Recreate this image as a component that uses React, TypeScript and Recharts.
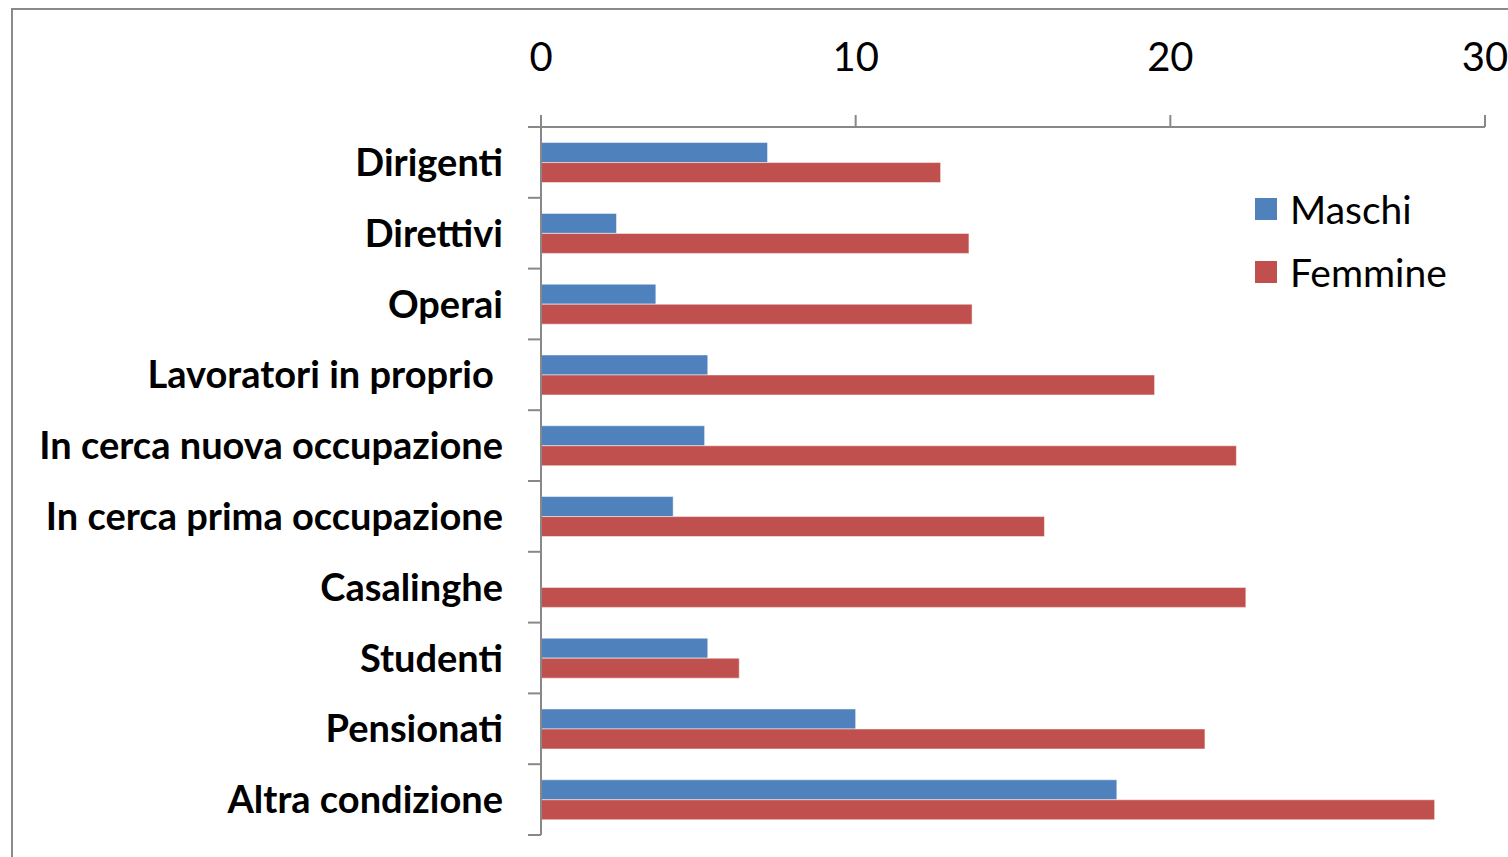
import { Bar, BarChart, Legend, XAxis, YAxis } from "recharts";

const categories = [
  "Dirigenti",
  "Direttivi",
  "Operai",
  "Lavoratori in proprio ",
  "In cerca nuova occupazione",
  "In cerca prima occupazione",
  "Casalinghe",
  "Studenti",
  "Pensionati",
  "Altra condizione"
];
const maschi = [7.2, 2.4, 3.65, 5.3, 5.2, 4.2, 0, 5.3, 10.0, 18.3];
const femmine = [12.7, 13.6, 13.7, 19.5, 22.1, 16.0, 22.4, 6.3, 21.1, 28.4];
const xTicks = [0, 10, 20, 30];
const seriesOrder = ["Maschi", "Femmine"];

const data = categories.map((name, i) => ({ name, Maschi: maschi[i], Femmine: femmine[i] }));

const FONT = "Lato, 'Open Sans', sans-serif";
const AXIS = "#888888";

function CategoryTick(props: any) {
  const { x, y, payload, index } = props;
  const half = payload && payload.offset ? payload.offset : 35.4;
  const lx1 = x + 25;
  const lx2 = x + 38;
  return (
    <g>
      <text
        x={x}
        y={y}
        dy="0.36em"
        textAnchor="end"
        fontFamily={FONT}
        fontWeight={700}
        fontSize={38}
        fill="#000"
        style={{ whiteSpace: "pre" }}
      >
        {payload.value}
      </text>
      <line x1={lx1} x2={lx2} y1={y - half} y2={y - half} stroke={AXIS} strokeWidth={2} />
      {index === categories.length - 1 && (
        <line x1={lx1} x2={lx2} y1={y + half} y2={y + half} stroke={AXIS} strokeWidth={2} />
      )}
    </g>
  );
}

function LegendBox(props: any) {
  const items = [...(props.payload || [])].sort(
    (a: any, b: any) => seriesOrder.indexOf(a.value) - seriesOrder.indexOf(b.value)
  );
  return (
    <div>
      {items.map((it: any) => (
        <div
          key={it.value}
          style={{ display: "flex", alignItems: "center", height: 63, fontFamily: FONT, fontSize: 39, color: "#000" }}
        >
          <span style={{ display: "inline-block", width: 22, height: 22, background: it.color, marginRight: 13 }} />
          <span>{it.value}</span>
        </div>
      ))}
    </div>
  );
}

export default function App() {
  return (
    <div style={{ position: "absolute", left: 0, top: 0, width: 1508, height: 857, overflow: "hidden", background: "#fff" }}>
      <div
        style={{
          position: "absolute",
          left: 11,
          top: 8,
          width: 1540,
          height: 900,
          border: "2px solid #8a8a8a",
          boxSizing: "border-box"
        }}
      />
      <div style={{ position: "absolute", left: 0, top: 0 }}>
        <BarChart
          width={1508}
          height={857}
          data={data}
          layout="vertical"
          margin={{ top: 67, right: 23, bottom: 22, left: 0 }}
          barCategoryGap="22%"
          barGap={0}
        >
          <XAxis
            type="number"
            orientation="top"
            domain={[0, 30]}
            ticks={xTicks}
            height={60}
            tickSize={12}
            tickMargin={44}
            axisLine={{ stroke: AXIS, strokeWidth: 2 }}
            tickLine={{ stroke: AXIS, strokeWidth: 2 }}
            tick={{ fill: "#000", fontSize: 40, fontFamily: FONT }}
            interval={0}
          />
          <YAxis
            type="category"
            dataKey="name"
            width={541}
            tickSize={13}
            tickMargin={25}
            tickLine={false}
            axisLine={{ stroke: AXIS, strokeWidth: 2 }}
            tick={<CategoryTick />}
            interval={0}
          />
          <Legend
            layout="vertical"
            align="center"
            verticalAlign="middle"
            wrapperStyle={{ left: 1255, top: 177, width: 240 }}
            content={<LegendBox />}
          />
          <Bar dataKey="Maschi" fill="#4F81BD" stroke="rgba(255,255,255,0.5)" strokeWidth={1} isAnimationActive={false} />
          <Bar dataKey="Femmine" fill="#C0504D" stroke="rgba(255,255,255,0.5)" strokeWidth={1} isAnimationActive={false} />
        </BarChart>
      </div>
    </div>
  );
}
